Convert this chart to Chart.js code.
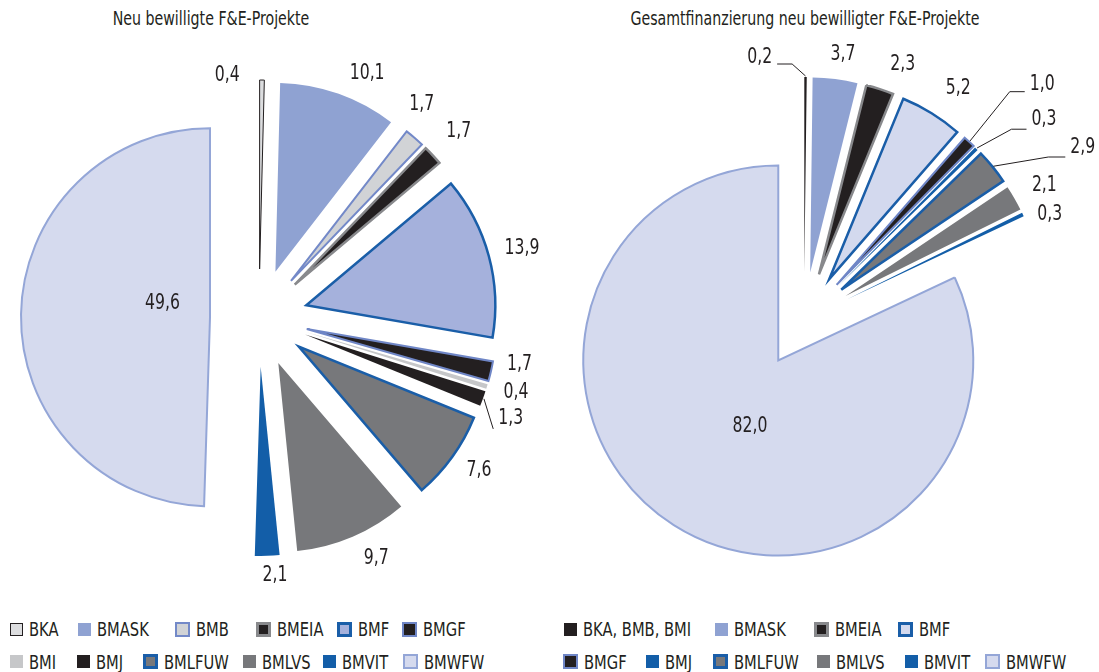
<!DOCTYPE html>
<html lang="de">
<head>
<meta charset="utf-8">
<script src="https://cdn.jsdelivr.net/npm/chart.js@4.4.1/dist/chart.umd.min.js"></script>
<style>
  body { margin: 0; background: #fff; color: #231f20;
         font-family: "Liberation Sans Narrow", "DejaVu Sans Condensed", sans-serif; }
  #page { position: relative; width: 1099px; height: 672px; overflow: hidden; }
  .title { position: absolute; top: 7px; font-size: 19px; white-space: nowrap;
           transform: translateX(-50%) scaleX(0.83); }
  .chart { position: absolute; top: 0; height: 610px; }
  .legend-item { position: absolute; display: flex; align-items: center; font-size: 19px;
                 white-space: nowrap; transform: translateY(-50%); }
  .legend-item .box { width: 13px; height: 13px; box-sizing: border-box; margin-right: 6px; flex: none; }
  .legend-item .name { display: inline-block; transform: scaleX(0.86); transform-origin: left center; }
</style>
</head>
<body>
<div id="page">
  <div class="title" style="left:211px">Neu bewilligte F&amp;E-Projekte</div>
  <div class="title" style="left:805px">Gesamtfinanzierung neu bewilligter F&amp;E-Projekte</div>
  <div class="chart" style="left:0;width:549px"><canvas id="projekte"></canvas></div>
  <div class="chart" style="left:549px;width:550px"><canvas id="finanzierung"></canvas></div>
  <div id="legend"></div>
</div>
<script>
// Anteile neu bewilligter Projekte (in %)
const projLabels = ['BKA', 'BMASK', 'BMB', 'BMEIA', 'BMF', 'BMGF', 'BMI', 'BMJ', 'BMLFUW', 'BMLVS', 'BMVIT', 'BMWFW'];
const projShares = [0.4, 10.1, 1.7, 1.7, 13.9, 1.7, 0.4, 1.3, 7.6, 9.7, 2.1, 49.6];

// Anteile an der Gesamtfinanzierung (in %)
const fundLabels = ['BKA, BMB, BMI', 'BMASK', 'BMEIA', 'BMF', 'BMGF', 'BMJ', 'BMLFUW', 'BMLVS', 'BMVIT', 'BMWFW'];
const fundShares = [0.2, 3.7, 2.3, 5.2, 1.0, 0.3, 2.9, 2.1, 0.3, 82.0];

// Farben
const projFill = ['#dcdddf', '#8fa2d2', '#d1d3d6', '#231f20', '#a5b1dc', '#231f20', '#c6c7c9', '#231f20', '#77787b', '#77787b', '#135ea8', '#d5daee'];
const projBorder = ['#231f20', 'transparent', '#7389c8', '#88898c', '#1a5ea8', '#6f86c6', 'transparent', 'transparent', '#1a5ea8', 'transparent', 'transparent', '#94a6d7'];
const projBorderWidth = [1, 0, 2, 2.5, 2.5, 2, 0, 0, 2.5, 0, 0, 2];

const fundFill = ['#231f20', '#8fa2d2', '#231f20', '#d3d9ee', '#231f20', '#135ea8', '#77787b', '#77787b', '#135ea8', '#d5daee'];
const fundBorder = ['transparent', 'transparent', '#88898c', '#1a5ea8', '#6f86c6', 'transparent', '#1a5ea8', 'transparent', 'transparent', '#94a6d7'];
const fundBorderWidth = [0, 0, 2.5, 2.5, 2, 0, 2.5, 0, 0, 2];

// Beschriftung: Verschiebung gegenüber der Standardposition, Führungslinien
const projNudge = [[-35, 18], [21, 1], [-7, -17], [10, -9], [12, -2], [7, -12], [8, 0], [7, 13], [9, 1], [15, 2], [7, -2], [47, -12]];
const projLeaders = {7: {elbow: 0, dy: 10}};
const fundNudge = [[-46, 3], [5, -3], [16, -4], [15, -6], [58, -41], [52, -14], [73, -5], [11, -2], [7, 10], [24, -16]];
const fundLeaders = {0: {elbow: 15, dy: 6}, 4: {elbow: 15, dy: 7}, 5: {elbow: 15, dy: 10}, 6: {elbow: 17, dy: 9}};

// Legendenpositionen
const projLegendX = [10, 78, 175, 256, 337, 402, 10, 77, 143, 243, 323, 403];
const fundLegendX = [564, 715, 814, 898, 563, 646, 713, 817, 905, 985];

const LABEL_SCALE_X = 0.83;

// Segmente radial nach außen schieben
const explode = {
  id: 'explode',
  afterDatasetUpdate(chart, args, opts) {
    const d = opts.distance || 0;
    args.meta.data.forEach(arc => {
      const mid = (arc.startAngle + arc.endAngle) / 2;
      arc.x += Math.cos(mid) * d;
      arc.y += Math.sin(mid) * d;
    });
  }
};

// Werte an die Segmente schreiben
const sliceLabels = {
  id: 'sliceLabels',
  afterDatasetsDraw(chart, args, opts) {
    const ctx = chart.ctx;
    const meta = chart.getDatasetMeta(0);
    const values = chart.data.datasets[0].data;
    ctx.save();
    ctx.font = '21px "Liberation Sans Narrow", "DejaVu Sans Condensed", sans-serif';
    ctx.fillStyle = '#231f20';
    ctx.strokeStyle = '#231f20';
    ctx.lineWidth = 1;
    ctx.textAlign = 'center';
    ctx.textBaseline = 'middle';
    meta.data.forEach((arc, i) => {
      const mid = (arc.startAngle + arc.endAngle) / 2;
      const inside = i === opts.inside;
      const r = inside ? arc.outerRadius * 0.5 : arc.outerRadius + 22;
      const nudge = opts.nudge[i] || [0, 0];
      const x = arc.x + Math.cos(mid) * r + nudge[0];
      const y = arc.y + Math.sin(mid) * r + nudge[1];
      const text = values[i].toFixed(1).replace('.', ',');

      ctx.save();
      ctx.translate(x, y);
      ctx.scale(LABEL_SCALE_X, 1);
      ctx.fillText(text, 0, 0);
      ctx.restore();

      const leader = opts.leaders[i];
      if (leader) {
        const w = ctx.measureText(text).width * LABEL_SCALE_X;
        const tipX = arc.x + Math.cos(mid) * (arc.outerRadius + 1);
        const tipY = arc.y + Math.sin(mid) * (arc.outerRadius + 1);
        const side = x > tipX ? -1 : 1;
        const endX = x + side * (w / 2 + 5);
        const endY = y + leader.dy;
        ctx.beginPath();
        ctx.moveTo(tipX, tipY);
        ctx.lineTo(endX + side * leader.elbow, endY);
        ctx.lineTo(endX, endY);
        ctx.stroke();
      }
    });
    ctx.restore();
  }
};

function pieConfig(labels, values, fill, border, widths, radius, distance, padding, nudge, leaders, inside) {
  return {
    type: 'pie',
    data: {
      labels: labels,
      datasets: [{
        data: values,
        backgroundColor: fill,
        borderColor: border,
        borderWidth: widths,
        borderJoinStyle: 'miter',
        clip: false
      }]
    },
    options: {
      responsive: true,
      maintainAspectRatio: false,
      animation: false,
      radius: radius,
      layout: { padding: padding },
      plugins: {
        legend: { display: false },
        tooltip: { enabled: false },
        explode: { distance: distance },
        sliceLabels: { nudge: nudge, leaders: leaders, inside: inside }
      }
    },
    plugins: [explode, sliceLabels]
  };
}

new Chart(document.getElementById('projekte'),
  pieConfig(projLabels, projShares, projFill, projBorder, projBorderWidth,
    189, 49, {left: 0, right: 31, top: 40, bottom: 14}, projNudge, projLeaders, 11));

new Chart(document.getElementById('finanzierung'),
  pieConfig(fundLabels, fundShares, fundFill, fundBorder, fundBorderWidth,
    195, 48, {left: 0, right: 40, top: 40, bottom: 10}, fundNudge, fundLeaders, 9));

// Legenden
function addLegend(labels, fill, border, widths, xs, rowBreak) {
  const host = document.getElementById('legend');
  labels.forEach((name, i) => {
    const item = document.createElement('div');
    item.className = 'legend-item';
    item.style.left = xs[i] + 'px';
    item.style.top = (i < rowBreak ? 629 : 661.5) + 'px';
    const box = document.createElement('span');
    box.className = 'box';
    box.style.background = fill[i];
    if (widths[i] > 0) {
      box.style.border = Math.max(1, Math.round(widths[i])) + 'px solid ' + border[i];
      box.style.width = box.style.height = (widths[i] > 1 ? 15 : 13) + 'px';
    }
    const txt = document.createElement('span');
    txt.className = 'name';
    txt.textContent = name;
    item.appendChild(box);
    item.appendChild(txt);
    host.appendChild(item);
  });
}
addLegend(projLabels, projFill, projBorder, projBorderWidth, projLegendX, 6);
addLegend(fundLabels, fundFill, fundBorder, fundBorderWidth, fundLegendX, 4);
</script>
</body>
</html>
